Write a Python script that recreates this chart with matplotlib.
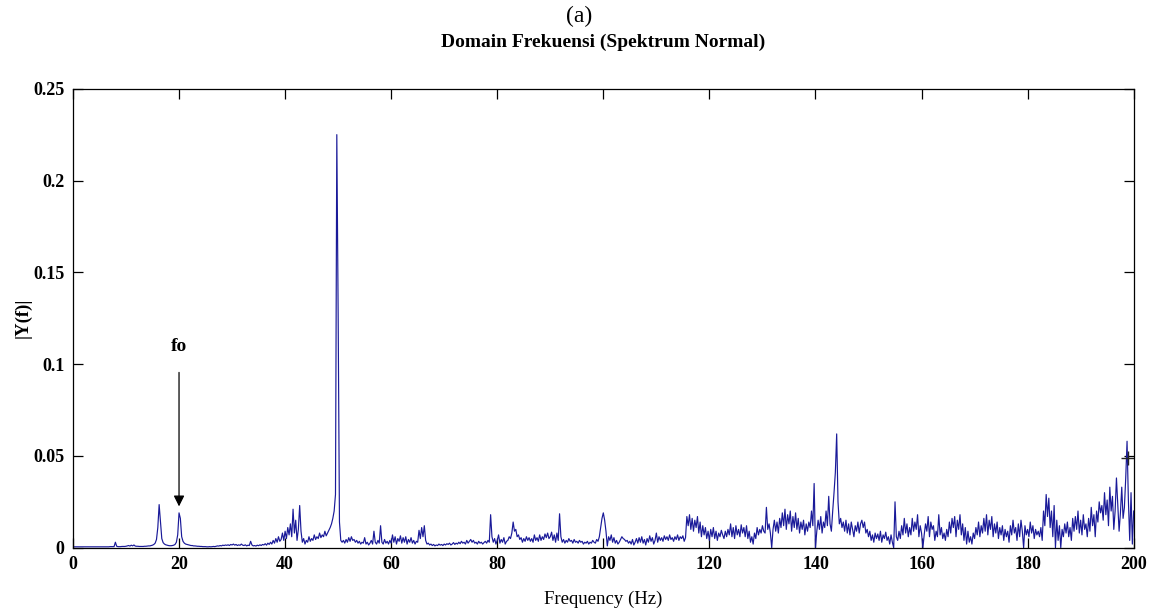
import numpy as np
import matplotlib
matplotlib.use('Agg')
import matplotlib.pyplot as plt

# spectrum |Y(f)|, 0.25 Hz grid, units of 1e-4
# one list per 10 Hz band, key = band start frequency
step = 0.25
bands = {
    0: [5, 5, 5, 5, 5, 5, 5, 5, 5, 5, 5, 5, 5, 5, 5, 5, 5, 5, 5, 5,
        5, 5, 5, 5, 5, 5, 5, 5, 6, 6, 6, 6, 30, 8, 6, 6, 6, 7, 7, 7],
    10: [8, 10, 12, 9, 14, 10, 15, 9, 8, 8, 7, 7, 7, 7, 8, 8, 9, 10, 10, 12,
         14, 18, 25, 45, 110, 235, 140, 50, 28, 20, 16, 14, 12, 11, 11, 12, 14, 18, 30, 70],
    20: [190, 160, 60, 35, 25, 20, 18, 16, 14, 12, 12, 10, 10, 9, 8, 8, 7, 7, 6, 6,
         6, 5, 5, 6, 5, 6, 7, 6, 8, 10, 9, 12, 10, 14, 12, 15, 13, 16, 12, 18],
    30: [15, 20, 14, 18, 12, 16, 13, 20, 14, 12, 16, 10, 14, 12, 35, 15, 10, 12, 9, 14,
         11, 16, 12, 18, 15, 22, 14, 25, 18, 30, 20, 40, 25, 50, 30, 60, 35, 45, 80, 40],
    40: [90, 50, 110, 70, 130, 60, 210, 80, 150, 40, 100, 230, 90, 30, 50, 20, 40, 30, 60, 35,
         50, 40, 70, 45, 60, 50, 80, 55, 70, 60, 90, 65, 80, 95, 110, 130, 160, 200, 290, 2250],
    50: [1280, 140, 40, 30, 40, 25, 45, 30, 55, 35, 60, 40, 45, 30, 40, 25, 35, 20, 30, 25,
         55, 20, 30, 15, 25, 40, 20, 90, 30, 20, 40, 25, 120, 30, 20, 45, 25, 35, 20, 40],
    60: [25, 70, 30, 60, 20, 50, 35, 65, 25, 55, 30, 60, 20, 45, 30, 55, 25, 40, 20, 35,
         30, 95, 50, 110, 60, 120, 40, 20, 25, 15, 20, 12, 18, 10, 15, 12, 20, 14, 18, 12],
    70: [20, 15, 22, 18, 25, 15, 20, 28, 18, 25, 20, 30, 22, 35, 25, 30, 20, 40, 25, 35,
         45, 30, 40, 25, 30, 20, 35, 25, 30, 20, 28, 35, 25, 40, 30, 180, 60, 30, 50, 20],
    80: [40, 70, 25, 45, 30, 55, 20, 35, 40, 60, 50, 80, 140, 90, 100, 60, 70, 45, 55, 30,
         50, 35, 60, 40, 55, 35, 50, 30, 70, 40, 55, 35, 70, 40, 60, 45, 75, 55, 80, 50],
    90: [60, 85, 40, 70, 30, 80, 40, 185, 60, 30, 45, 25, 40, 30, 50, 35, 40, 25, 45, 30,
         35, 25, 40, 30, 35, 20, 30, 25, 35, 20, 30, 25, 40, 30, 25, 45, 35, 60, 110, 160],
    100: [190, 150, 90, 10, 60, 40, 70, 30, 55, 25, 40, 20, 30, 45, 60, 50, 45, 35, 40, 25,
          35, 20, 45, 15, 30, 50, 25, 55, 30, 60, 25, 45, 15, 50, 30, 65, 35, 55, 20, 40],
    110: [80, 30, 60, 40, 55, 35, 65, 45, 60, 40, 70, 45, 55, 35, 60, 45, 70, 40, 60, 50,
          65, 35, 55, 170, 120, 180, 100, 160, 90, 150, 110, 170, 80, 140, 60, 120, 70, 110, 50, 90],
    120: [40, 100, 60, 110, 50, 90, 40, 80, 60, 95, 70, 50, 90, 60, 100, 70, 130, 60, 110, 50,
          120, 70, 100, 60, 125, 80, 110, 60, 120, 50, 90, 30, 60, 20, 80, 50, 110, 70, 100, 80],
    130: [120, 90, 80, 220, 100, 130, 80, 0, 100, 150, 90, 140, 80, 160, 110, 190, 120, 210, 100, 180,
          130, 200, 90, 170, 110, 190, 100, 160, 80, 140, 100, 150, 70, 130, 90, 140, 110, 200, 120, 350],
    140: [0, 90, 150, 100, 170, 80, 140, 110, 200, 120, 280, 130, 90, 200, 300, 410, 620, 250, 130, 160,
          110, 140, 90, 150, 80, 130, 70, 140, 100, 60, 120, 90, 140, 80, 130, 150, 110, 140, 80, 100],
    150: [60, 90, 40, 70, 30, 80, 50, 75, 40, 90, 30, 70, 50, 85, 40, 60, 20, 70, 30, 0,
          250, 60, 40, 90, 50, 120, 70, 160, 80, 130, 60, 110, 70, 160, 90, 140, 100, 180, 60, 120],
    160: [80, 0, 70, 130, 90, 170, 60, 140, 100, 120, 40, 90, 60, 180, 70, 110, 50, 80, 40, 100,
          60, 140, 80, 160, 110, 170, 60, 150, 100, 180, 70, 130, 40, 110, 20, 90, 30, 60, 20, 80],
    170: [50, 110, 70, 140, 60, 120, 80, 160, 90, 180, 70, 150, 100, 170, 60, 130, 80, 140, 50, 110,
          70, 120, 40, 100, 60, 90, 30, 120, 70, 150, 80, 110, 40, 130, 60, 150, 90, 0, 120, 70],
    180: [100, 60, 140, 80, 120, 50, 100, 70, 90, 60, 110, 40, 200, 120, 290, 170, 270, 110, 200, 60,
          230, 0, 150, 40, 120, 0, 100, 60, 130, 80, 140, 60, 110, 40, 160, 90, 170, 100, 200, 80],
    190: [150, 70, 180, 100, 130, 60, 160, 90, 220, 120, 180, 60, 200, 140, 250, 190, 230, 150, 300, 180,
          260, 120, 330, 200, 280, 100, 200, 380, 240, 90, 190, 330, 160, 220, 380, 580, 260, 40, 300, 20,
          200],
}

freqs = []
amps = []
for f0, vals in bands.items():
    for i, v in enumerate(vals):
        freqs.append(f0 + i * step)
        amps.append(v * 1e-4)
freqs = np.array(freqs)
amps = np.array(amps)

cursor_f, cursor_y = 199.0, 0.049   # data cursor "+" near 200 Hz
fo_f, fo_text_y, fo_tail_y, fo_head_y = 20.0, 0.105, 0.097, 0.021

yticks = [0, 0.05, 0.1, 0.15, 0.2, 0.25]
ytick_labels = ['0', '0.05', '0.1', '0.15', '0.2', '0.25']
xticks = [0, 20, 40, 60, 80, 100, 120, 140, 160, 180, 200]

plt.rcParams['font.family'] = ['Liberation Serif', 'DejaVu Serif']

fig = plt.figure(figsize=(11.58, 6.12), dpi=100)
ax = fig.add_axes([0.063, 0.105, 0.916, 0.75])

ax.plot(freqs, amps, color='#1a1a99', linewidth=0.85)
ax.plot([cursor_f], [cursor_y], marker='+', color='#222222', markersize=10, markeredgewidth=1)

ax.annotate('', xy=(fo_f, fo_head_y), xytext=(fo_f, fo_tail_y),
            arrowprops=dict(arrowstyle='-|>', color='black', lw=0.9, mutation_scale=16))
ax.text(fo_f, fo_text_y, 'fo', ha='center', va='bottom', fontsize=14, fontweight='bold')

ax.set_xlim(0, 200)
ax.set_ylim(0, 0.25)
ax.set_xticks(xticks)
ax.set_xticklabels([str(t) for t in xticks], fontsize=13, fontweight='bold')
ax.set_yticks(yticks)
ax.set_yticklabels(ytick_labels, fontsize=13, fontweight='bold')
ax.tick_params(direction='in', length=7, width=0.9, top=True, right=True, pad=6)
for s in ax.spines.values():
    s.set_linewidth(0.9)

ax.set_xlabel('Frequency (Hz)', fontsize=13.5, labelpad=13)
ax.set_ylabel('|Y(f)|', fontsize=13.5, fontweight='bold', labelpad=1)
ax.set_title('Domain Frekuensi (Spektrum Normal)', fontsize=14, fontweight='bold', pad=30)
fig.text(0.5, 0.99, '(a)', ha='center', va='top', fontsize=17)

fig.savefig('out.png', dpi=100)
